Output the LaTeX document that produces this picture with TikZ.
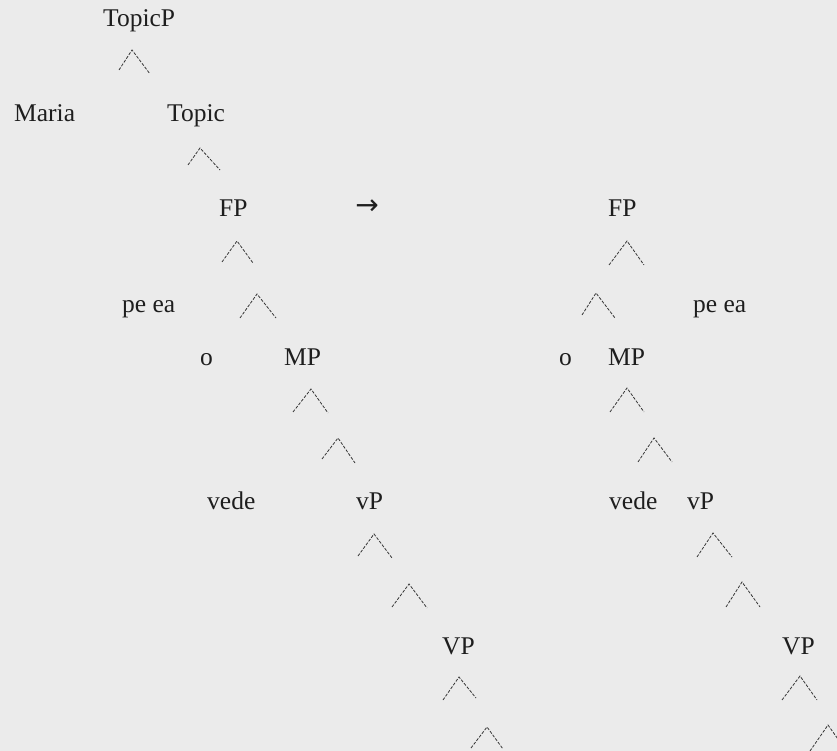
\documentclass[tikz,border=0pt]{standalone}
\usepackage{fontspec}
\setmainfont{Liberation Serif}
\newfontfamily\arrfont{DejaVu Sans}
\definecolor{bgc}{RGB}{235,235,235}
\definecolor{ink}{RGB}{30,30,30}
\begin{document}
\begin{tikzpicture}[x=1pt,y=-1pt,
  lab/.style={anchor=base west,inner sep=0pt,text=ink,font=\fontsize{25.5}{30}\selectfont},
  br/.style={draw=ink!90,line width=0.8pt,dash pattern=on 3pt off 1.5pt}]
\fill[bgc] (0,0) rectangle (837,751);
\useasboundingbox (0,0) rectangle (837,751);
% left tree
\node[lab] (topicp) at (103,27) {TopicP};
\draw[br] (119,70) -- (132,50) -- (150,74);
\node[lab] (maria) at (14,122) {Maria};
\node[lab] (topic) at (167,122) {Topic};
\draw[br] (188,165) -- (200,148) -- (220,170);
\node[lab] (fpL) at (219,217) {FP};
\node[inner sep=0pt,text=ink,font=\arrfont\fontsize{28}{32}\selectfont] (arr) at (367,207) {→};
\draw[br] (222,262) -- (237,241) -- (253,263);
\node[lab] (peeaL) at (122,312) {pe ea};
\draw[br] (240,318) -- (257,294) -- (276,318);
\node[lab] (oL) at (200,365) {o};
\node[lab] (mpL) at (284,365) {MP};
\draw[br] (293,412) -- (311,389) -- (328,413);
\draw[br] (322,459) -- (338,438) -- (355,463);
\node[lab] (vedeL) at (207,509) {vede};
\node[lab] (vpL) at (356,509) {vP};
\draw[br] (358,556) -- (374,534) -- (392,558);
\draw[br] (392,607) -- (409,584) -- (427,608);
\node[lab] (VPL) at (442,654) {VP};
\draw[br] (443,700) -- (459,677) -- (476,698);
\draw[br] (471,748) -- (487,727) -- (503,749);
% right tree
\node[lab] (fpR) at (608,217) {FP};
\draw[br] (609,265) -- (627,241) -- (644,265);
\draw[br] (582,315) -- (596,293) -- (615,318);
\node[lab] (peeaR) at (693,312) {pe ea};
\node[lab] (oR) at (559,365) {o};
\node[lab] (mpR) at (608,365) {MP};
\draw[br] (610,412) -- (627,388) -- (644,412);
\draw[br] (638,462) -- (654,438) -- (672,462);
\node[lab] (vedeR) at (609,509) {vede};
\node[lab] (vpR) at (687,509) {vP};
\draw[br] (697,557) -- (713,533) -- (732,557);
\draw[br] (726,607) -- (742,582) -- (760,607);
\node[lab] (VPR) at (782,654) {VP};
\draw[br] (782,700) -- (800,676) -- (817,700);
\draw[br] (810,751) -- (828,725) -- (845,749);
\end{tikzpicture}
\end{document}
